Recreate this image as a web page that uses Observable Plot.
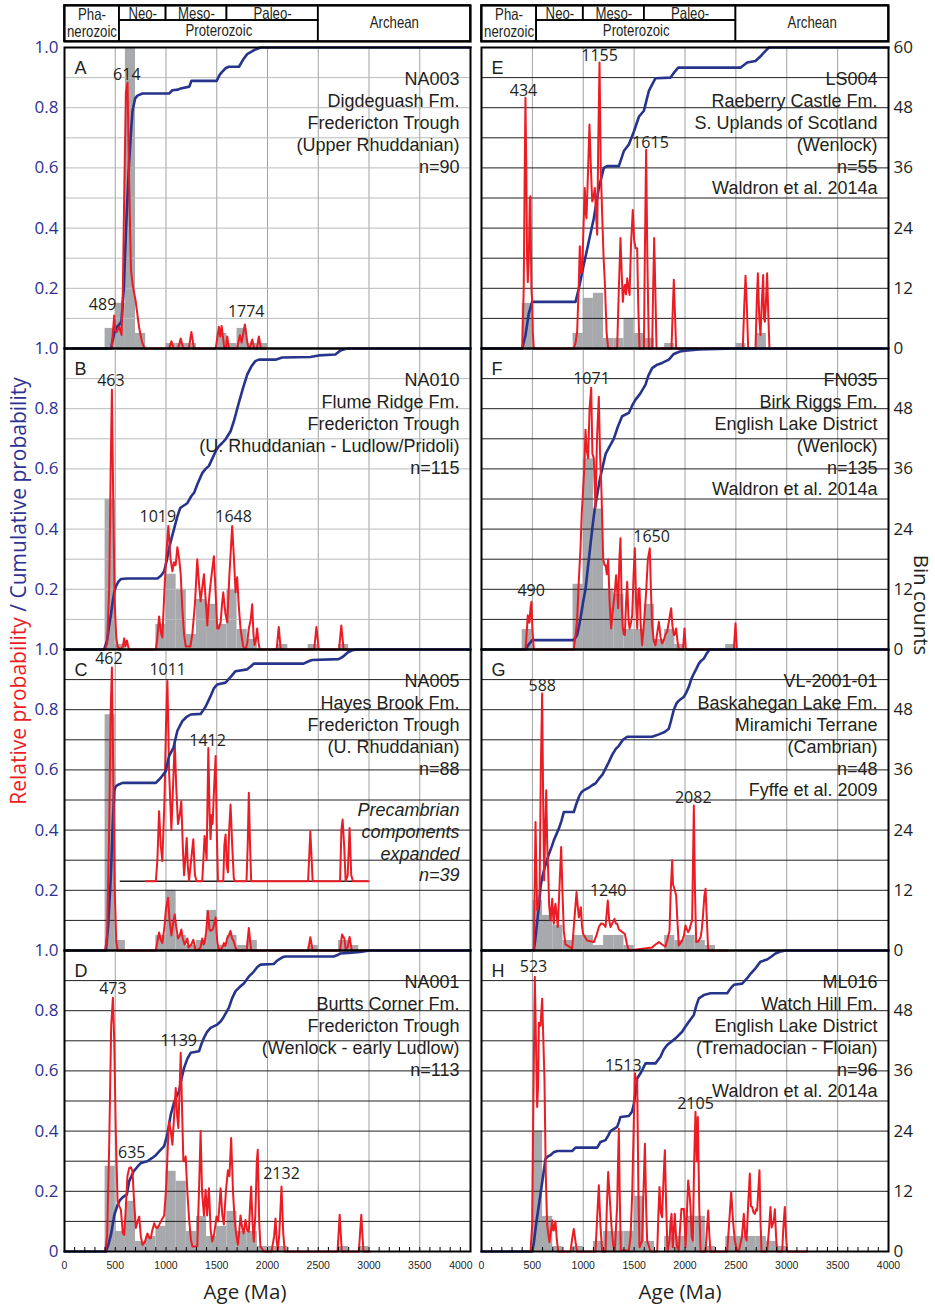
<!DOCTYPE html>
<html><head><meta charset="utf-8">
<script src="https://cdn.jsdelivr.net/npm/d3@7"></script>
<script src="https://cdn.jsdelivr.net/npm/@observablehq/plot@0.6"></script>
<style>
body{margin:0;background:#fff;}
#chart{position:relative;width:935px;height:1304px;overflow:hidden;background:#fff;}
#chart svg{position:absolute;}
.lab{position:absolute;white-space:nowrap;font-family:'Open Sans',sans-serif;line-height:1;}
</style></head><body><div id="chart"></div>
<script>
// ---------------- DATA ----------------
const binWidth = 100;
const countMax = 60;
const ageTicks = [0,500,1000,1500,2000,2500,3000,3500,4000];
const eraNames = ["Pha-\nnerozoic","Neo-","Meso-","Paleo-","Proterozoic","Archean"];
const eraStart = [0,541,1000,1600,541,2500];
const eraEnd   = [541,1000,1600,2500,2500,4000];
const eraRow   = ["full","upper","upper","upper","lower","full"];
const probTicks = [0.2,0.4,0.6,0.8,1.0];
const countTicks = [0,12,24,36,48,60];

// Panel A
const redA = [[457,0],[467,0.01],[478,0.06],[490,0.11],[500,0.06],[516,0.055],[539,0.072],[562,0.045],[575,0.2],[590,0.55],[605,0.85],[621,0.883],[637,0.55],[655,0.26],[672,0.21],[700,0.16],[735,0.07],[765,0.02],[790,0],[1030,0],[1053,0.024],[1075,0],[1120,0],[1145,0.033],[1170,0],[1225,0],[1250,0.055],[1275,0],[1490,0],[1521,0.072],[1535,0.04],[1548,0.075],[1575,0],[1590,0],[1603,0.04],[1620,0],[1700,0],[1728,0.044],[1745,0.02],[1777,0.08],[1805,0.01],[1825,0],[1849,0.03],[1870,0],[1895,0],[1915,0.04],[1935,0],[1997,0]];
const blueA = [[0,0],[457,0],[490,0.05],[506,0.067],[540,0.08],[561,0.09],[585,0.2],[604,0.38],[620,0.5],[637,0.62],[655,0.72],[670,0.79],[695,0.83],[719,0.84],[768,0.847],[1030,0.847],[1063,0.858],[1120,0.86],[1145,0.864],[1230,0.87],[1250,0.889],[1499,0.889],[1530,0.91],[1555,0.92],[1590,0.932],[1620,0.936],[1719,0.936],[1760,0.96],[1800,0.978],[1860,0.99],[1931,1],[4000,1]];
const binsA = [[400,4],[500,9],[600,60],[700,3],[1000,1],[1100,1],[1200,1],[1500,3],[1600,1],[1700,4],[1800,1],[1900,1]];
const peaksA = [["614",614,0.909],["489",375,0.145],["1774",1790,0.122]];
const textA = ["NA003","Digdeguash Fm.","Fredericton Trough","(Upper Rhuddanian)","n=90"];

// Panel B
const redB = [[400,0],[420,0.02],[440,0.2],[455,0.6],[467,0.863],[480,0.5],[495,0.15],[510,0.04],[523,0.01],[550,0],[575,0.01],[588,0.037],[600,0.01],[615,0.03],[630,0.005],[645,0],[900,0],[915,0.04],[932,0.11],[948,0.06],[964,0.04],[985,0.2],[1000,0.3],[1023,0.41],[1045,0.3],[1063,0.26],[1079,0.29],[1095,0.28],[1112,0.34],[1130,0.3],[1145,0.25],[1160,0.14],[1178,0.05],[1195,0.01],[1240,0.01],[1259,0.05],[1285,0.15],[1308,0.3],[1325,0.22],[1341,0.16],[1355,0.2],[1374,0.25],[1390,0.17],[1407,0.08],[1420,0.15],[1433,0.2],[1450,0.25],[1472,0.31],[1490,0.18],[1505,0.07],[1520,0.07],[1538,0.09],[1552,0.15],[1564,0.19],[1585,0.12],[1603,0.09],[1625,0.25],[1652,0.41],[1670,0.3],[1685,0.19],[1701,0.24],[1718,0.14],[1734,0.07],[1760,0.01],[1783,0],[1800,0.02],[1816,0.07],[1835,0.1],[1849,0.15],[1862,0.05],[1872,0.015],[1885,0.03],[1898,0.07],[1912,0.02],[1924,0],[2090,0],[2111,0.075],[2130,0],[2460,0],[2482,0.075],[2505,0],[2705,0],[2727,0.08],[2750,0],[2816,0]];
const blueB = [[0,0],[391,0],[420,0.03],[440,0.08],[457,0.115],[475,0.16],[490,0.19],[506,0.21],[530,0.225],[555,0.234],[620,0.236],[916,0.236],[950,0.245],[982,0.26],[1010,0.3],[1030,0.336],[1055,0.37],[1079,0.4],[1110,0.44],[1140,0.47],[1161,0.475],[1210,0.486],[1250,0.51],[1276,0.52],[1310,0.55],[1357,0.586],[1390,0.6],[1423,0.61],[1450,0.63],[1489,0.658],[1520,0.675],[1554,0.686],[1590,0.7],[1636,0.725],[1670,0.76],[1718,0.82],[1760,0.87],[1800,0.913],[1840,0.94],[1880,0.958],[1915,0.963],[2079,0.963],[2145,0.97],[2422,0.972],[2504,0.977],[2668,0.98],[2717,0.993],[2783,1],[4000,1]];
const binsB = [[400,30],[500,1],[900,5],[1000,15],[1100,12],[1200,3],[1300,10],[1400,9],[1500,5],[1600,12],[1700,4],[1800,2],[2100,1],[2400,1],[2700,1]];
const peaksB = [["463",457,0.892],["1019",919,0.441],["1648",1666,0.441]];
const textB = ["NA010","Flume Ridge Fm.","Fredericton Trough","(U. Rhuddanian - Ludlow/Pridoli)","n=115"];

// Panel C
const redC = [[400,0],[420,0.05],[440,0.4],[455,0.8],[467,0.94],[480,0.6],[495,0.2],[510,0.03],[523,0],[900,0],[915,0.03],[932,0.06],[948,0.035],[964,0.025],[985,0.08],[1000,0.14],[1020,0.175],[1035,0.1],[1053,0.05],[1070,0.09],[1086,0.12],[1100,0.08],[1118,0.04],[1135,0.05],[1151,0.07],[1165,0.04],[1184,0.02],[1198,0.03],[1210,0.04],[1222,0.01],[1236,0.015],[1250,0.02],[1269,0.036],[1288,0.005],[1308,0],[1340,0.01],[1357,0.04],[1370,0.02],[1380,0.025],[1395,0.06],[1413,0.13],[1428,0.07],[1439,0.065],[1460,0.07],[1489,0.11],[1505,0.03],[1521,0],[1555,0.01],[1570,0.025],[1585,0.015],[1603,0.04],[1620,0.05],[1636,0.065],[1652,0.04],[1668,0.03],[1685,0.01],[1701,0],[1795,0],[1816,0.075],[1839,0],[2400,0],[2422,0.044],[2445,0],[2715,0],[2734,0.053],[2757,0.04],[2770,0.005],[2790,0.01],[2809,0.045],[2830,0],[2996,0]];
const redExpC = [[800,0.23],[900,0.23],[915,0.3],[932,0.463],[948,0.35],[964,0.297],[985,0.5],[1000,0.75],[1014,0.895],[1030,0.6],[1053,0.40],[1070,0.55],[1086,0.695],[1100,0.55],[1118,0.42],[1135,0.45],[1151,0.496],[1165,0.35],[1178,0.25],[1190,0.3],[1204,0.374],[1215,0.28],[1227,0.232],[1248,0.3],[1269,0.37],[1285,0.25],[1302,0.23],[1357,0.23],[1368,0.3],[1380,0.38],[1390,0.35],[1400,0.30],[1417,0.673],[1430,0.45],[1439,0.37],[1450,0.45],[1459,0.42],[1475,0.55],[1489,0.646],[1500,0.4],[1512,0.23],[1564,0.23],[1575,0.35],[1587,0.385],[1600,0.28],[1610,0.26],[1622,0.4],[1636,0.485],[1652,0.35],[1668,0.24],[1680,0.23],[1793,0.23],[1805,0.35],[1816,0.524],[1828,0.35],[1839,0.23],[2400,0.23],[2422,0.396],[2445,0.23],[2715,0.23],[2728,0.4],[2740,0.435],[2755,0.35],[2770,0.23],[2790,0.25],[2809,0.407],[2825,0.25],[2842,0.23],[2996,0.23]];
const expBaseC = [549,2996,0.23];
const blueC = [[0,0],[408,0],[430,0.08],[457,0.25],[475,0.42],[490,0.53],[505,0.545],[523,0.55],[572,0.557],[900,0.557],[949,0.574],[998,0.596],[1030,0.646],[1073,0.673],[1112,0.73],[1161,0.762],[1200,0.775],[1243,0.784],[1341,0.786],[1390,0.81],[1439,0.845],[1470,0.87],[1505,0.884],[1587,0.89],[1640,0.91],[1685,0.928],[1800,0.934],[1840,0.945],[1865,0.953],[2356,0.953],[2400,0.96],[2438,0.965],[2700,0.968],[2740,0.975],[2790,0.99],[2840,0.998],[2880,1],[4000,1]];
const binsC = [[400,47],[500,2],[900,3],[1000,12],[1100,3],[1200,1],[1300,2],[1400,8],[1500,1],[1600,3],[1700,1],[1800,2],[2400,1],[2700,2],[2800,1]];
const peaksC = [["462",437,0.968],["1011",1017,0.931],["1412",1410,0.696]];
const textC = ["NA005","Hayes Brook Fm.","Fredericton Trough","(U. Rhuddanian)","n=88"];
const noteC = ["Precambrian","components","expanded","n=39"];

// Panel D
const redD = [[400,0],[420,0.05],[440,0.35],[460,0.75],[477,0.843],[490,0.7],[505,0.4],[523,0.166],[540,0.15],[555,0.14],[575,0.06],[588,0.055],[605,0.15],[620,0.25],[637,0.277],[655,0.28],[670,0.266],[685,0.17],[703,0.078],[720,0.1],[736,0.116],[752,0.05],[768,0.022],[790,0.03],[817,0.06],[835,0.045],[850,0.044],[865,0.07],[884,0.094],[900,0.08],[916,0.078],[935,0.09],[949,0.1],[965,0.11],[982,0.12],[995,0.18],[1004,0.23],[1018,0.35],[1030,0.43],[1047,0.4],[1063,0.355],[1080,0.45],[1096,0.543],[1110,0.45],[1122,0.41],[1135,0.55],[1145,0.66],[1160,0.45],[1171,0.3],[1185,0.3],[1194,0.316],[1210,0.2],[1227,0.11],[1245,0.04],[1259,0.017],[1308,0.017],[1325,0.2],[1341,0.40],[1355,0.2],[1374,0.12],[1390,0.205],[1405,0.12],[1423,0.21],[1440,0.07],[1456,0.033],[1475,0.06],[1498,0.116],[1515,0.1],[1538,0.21],[1555,0.12],[1570,0.09],[1590,0.2],[1610,0.27],[1625,0.25],[1642,0.377],[1660,0.2],[1675,0.11],[1690,0.06],[1708,0.022],[1720,0.06],[1734,0.12],[1750,0.08],[1765,0.06],[1783,0.105],[1800,0.07],[1816,0.066],[1828,0.15],[1839,0.216],[1852,0.1],[1865,0.033],[1880,0.12],[1895,0.3],[1904,0.338],[1918,0.1],[1930,0.017],[1963,0],[2040,0],[2065,0.05],[2079,0.11],[2092,0.03],[2102,0.005],[2115,0.05],[2138,0.216],[2155,0.06],[2170,0],[2690,0],[2711,0.122],[2732,0],[2900,0],[2924,0.122],[2945,0],[3006,0]];
const blueD = [[0,0],[408,0],[430,0.02],[457,0.055],[475,0.09],[490,0.12],[523,0.155],[545,0.17],[572,0.18],[615,0.19],[637,0.233],[680,0.266],[715,0.28],[752,0.294],[817,0.3],[860,0.31],[900,0.32],[940,0.335],[982,0.35],[1014,0.39],[1047,0.455],[1075,0.49],[1096,0.51],[1128,0.532],[1150,0.57],[1178,0.61],[1210,0.64],[1243,0.66],[1325,0.665],[1350,0.69],[1374,0.71],[1405,0.73],[1439,0.743],[1505,0.754],[1540,0.765],[1570,0.78],[1620,0.81],[1650,0.84],[1685,0.865],[1730,0.88],[1767,0.89],[1820,0.915],[1865,0.93],[1900,0.945],[1930,0.953],[2061,0.955],[2090,0.965],[2111,0.97],[2150,0.978],[2177,0.98],[2652,0.98],[2690,0.985],[2717,0.99],[2800,0.992],[2914,0.995],[3006,1],[4000,1]];
const binsD = [[400,17],[500,4],[600,10],[700,2],[800,3],[900,5],[1000,16],[1100,14],[1200,4],[1300,7],[1400,3],[1500,5],[1600,8],[1700,4],[1800,4],[1900,1],[2000,1],[2100,1],[2700,1],[2900,1]];
const peaksD = [["473",477,0.872],["1139",1125,0.699],["635",663,0.327],["2132",2138,0.258]];
const textD = ["NA001","Burtts Corner Fm.","Fredericton Trough","(Wenlock - early Ludlow)","n=113"];

// Panel E
const redE = [[400,0],[415,0.2],[425,0.6],[432,0.833],[440,0.6],[448,0.3],[455,0.22],[465,0.3],[475,0.5],[481,0.506],[490,0.2],[498,0.155],[505,0.05],[514,0],[907,0],[925,0.02],[940,0.055],[955,0.2],[966,0.34],[978,0.25],[989,0.255],[1002,0.4],[1015,0.533],[1024,0.45],[1032,0.433],[1048,0.6],[1061,0.744],[1075,0.6],[1088,0.489],[1100,0.5],[1114,0.533],[1125,0.45],[1137,0.378],[1148,0.7],[1160,0.95],[1172,0.6],[1186,0.444],[1200,0.3],[1212,0.222],[1230,0.05],[1245,0],[1333,0],[1350,0.2],[1366,0.367],[1378,0.25],[1389,0.155],[1400,0.2],[1409,0.211],[1420,0.18],[1432,0.233],[1445,0.2],[1455,0.178],[1470,0.35],[1487,0.46],[1500,0.36],[1514,0.333],[1530,0.333],[1540,0.15],[1553,0],[1596,0],[1605,0.3],[1618,0.66],[1630,0.3],[1645,0],[1677,0],[1687,0.2],[1697,0.367],[1708,0.2],[1720,0],[1867,0],[1880,0.13],[1890,0.228],[1900,0.13],[1913,0],[2568,0],[2582,0.14],[2595,0.242],[2608,0.14],[2621,0],[2693,0],[2705,0.15],[2716,0.25],[2730,0.1],[2742,0.044],[2755,0.15],[2768,0.244],[2777,0.1],[2785,0.089],[2795,0.15],[2807,0.25],[2818,0.12],[2830,0],[3004,0]];
const blueE = [[0,0],[400,0],[432,0.044],[465,0.117],[498,0.155],[531,0.155],[924,0.155],[957,0.2],[1005,0.278],[1055,0.356],[1104,0.433],[1153,0.533],[1202,0.6],[1235,0.606],[1350,0.606],[1399,0.656],[1448,0.678],[1497,0.72],[1547,0.77],[1596,0.79],[1645,0.856],[1710,0.898],[1858,0.9],[1900,0.92],[1933,0.933],[2005,0.933],[2545,0.933],[2611,0.95],[2693,0.955],[2740,0.97],[2775,0.983],[2824,1],[4000,1]];
const binsE = [[400,9],[900,3],[1000,10],[1100,11],[1200,2],[1300,2],[1400,6],[1500,3],[1600,2],[1800,1],[2500,1],[2700,3]];
const peaksE = [["434",413,0.855],["1155",1160,0.972],["1615",1661,0.684]];
const textE = ["LS004","Raeberry Castle Fm.","S. Uplands of Scotland","(Wenlock)","n=55","Waldron et al. 2014a"];

// Panel F
const redF = [[432,0],[445,0.06],[455,0.114],[465,0.09],[472,0.09],[482,0.14],[491,0.159],[500,0.07],[514,0],[907,0],[925,0.05],[940,0.1],[955,0.22],[973,0.336],[985,0.45],[996,0.514],[1010,0.6],[1022,0.73],[1035,0.66],[1048,0.635],[1062,0.8],[1078,0.87],[1090,0.65],[1104,0.635],[1112,0.55],[1120,0.47],[1135,0.7],[1153,0.84],[1165,0.65],[1179,0.525],[1196,0.3],[1210,0.28],[1219,0.28],[1232,0.25],[1245,0.3],[1260,0.15],[1274,0.07],[1288,0.12],[1300,0.158],[1312,0.2],[1323,0.247],[1333,0.2],[1343,0.137],[1355,0.3],[1366,0.37],[1378,0.15],[1389,0.07],[1400,0.05],[1409,0.048],[1420,0.15],[1432,0.225],[1445,0.1],[1455,0.07],[1470,0.09],[1481,0.114],[1495,0.25],[1507,0.336],[1520,0.15],[1530,0.07],[1542,0.2],[1553,0.203],[1565,0.08],[1579,0.014],[1600,0.1],[1618,0.192],[1635,0.3],[1654,0.336],[1665,0.2],[1677,0.081],[1692,0.03],[1710,0.014],[1725,0.05],[1743,0.092],[1760,0.04],[1775,0.02],[1790,0.03],[1808,0.05],[1825,0.059],[1845,0.1],[1864,0.137],[1876,0.08],[1890,0.048],[1900,0.05],[1913,0.07],[1925,0.03],[1939,0],[1980,0],[1995,0.07],[2008,0],[2480,0],[2496,0.087],[2510,0],[2611,0]];
const blueF = [[0,0],[432,0],[460,0.015],[498,0.031],[531,0.031],[907,0.031],[940,0.048],[973,0.103],[1000,0.16],[1022,0.2],[1055,0.30],[1088,0.4],[1110,0.46],[1137,0.514],[1160,0.56],[1186,0.6],[1220,0.65],[1251,0.67],[1300,0.7],[1340,0.74],[1382,0.775],[1448,0.786],[1480,0.81],[1514,0.83],[1560,0.85],[1612,0.88],[1640,0.91],[1677,0.935],[1720,0.945],[1775,0.952],[1841,0.963],[1890,0.982],[1950,0.99],[2005,0.993],[2136,0.997],[2496,1],[4000,1]];
const binsF = [[400,4],[900,13],[1000,38],[1100,28],[1200,12],[1300,11],[1400,4],[1500,4],[1600,9],[1700,2],[1800,4],[1900,1],[2400,1]];
const peaksF = [["1071",1081,0.898],["490",488,0.194],["1650",1671,0.374]];
const textF = ["FN035","Birk Riggs Fm.","English Lake District","(Wenlock)","n=135","Waldron et al. 2014a"];

// Panel G
const redG = [[514,0],[522,0.2],[531,0.427],[540,0.25],[547,0.133],[560,0.16],[570,0.166],[583,0.6],[596,0.854],[606,0.5],[616,0.233],[626,0.4],[636,0.532],[646,0.35],[655,0.266],[665,0.15],[678,0.1],[695,0.172],[703,0.12],[711,0.089],[720,0.14],[727,0.155],[738,0.12],[750,0.078],[765,0.2],[783,0.344],[795,0.2],[809,0.066],[825,0.02],[842,0.017],[891,0.006],[912,0.1],[934,0.194],[945,0.15],[957,0.11],[965,0.12],[976,0.144],[988,0.08],[999,0.055],[1038,0.033],[1104,0.028],[1130,0.05],[1153,0.078],[1175,0.09],[1192,0.089],[1205,0.085],[1219,0.078],[1241,0.166],[1255,0.1],[1268,0.078],[1285,0.09],[1307,0.105],[1320,0.09],[1333,0.089],[1350,0.07],[1366,0.066],[1390,0.06],[1409,0.055],[1430,0.02],[1448,0],[1677,0.01],[1710,0.02],[1743,0.028],[1775,0.02],[1808,0.013],[1830,0.04],[1848,0.066],[1860,0.2],[1874,0.3],[1882,0.22],[1890,0.211],[1900,0.2],[1913,0.183],[1925,0.1],[1939,0.017],[1972,0.033],[1990,0.05],[2005,0.083],[2018,0.07],[2031,0.061],[2045,0.07],[2054,0.083],[2070,0.1],[2087,0.482],[2098,0.2],[2110,0.028],[2130,0.03],[2153,0.044],[2165,0.07],[2176,0.111],[2190,0.18],[2202,0.205],[2215,0.1],[2228,0],[2415,0]];
const blueG = [[0,0],[514,0],[530,0.04],[547,0.094],[565,0.15],[580,0.21],[595,0.24],[613,0.266],[635,0.29],[662,0.32],[690,0.345],[711,0.366],[735,0.385],[760,0.405],[785,0.43],[809,0.46],[907,0.46],[930,0.485],[957,0.51],[980,0.525],[1005,0.532],[1050,0.54],[1088,0.549],[1120,0.555],[1153,0.57],[1190,0.585],[1219,0.604],[1250,0.625],[1284,0.65],[1320,0.67],[1350,0.68],[1390,0.7],[1432,0.71],[1677,0.71],[1743,0.718],[1800,0.726],[1841,0.737],[1860,0.76],[1890,0.8],[1915,0.82],[1939,0.83],[1989,0.843],[2010,0.855],[2038,0.876],[2060,0.9],[2087,0.92],[2110,0.935],[2136,0.953],[2160,0.963],[2185,0.97],[2210,0.985],[2241,1],[4000,1]];
const binsG = [[500,10],[600,7],[700,5],[800,2],[900,3],[1000,3],[1100,1],[1200,3],[1300,3],[1400,1],[1800,3],[1900,2],[2000,3],[2100,2],[2200,1]];
const peaksG = [["588",597,0.879],["1240",1245,0.198],["2082",2081,0.507]];
const textG = ["VL-2001-01","Baskahegan Lake Fm.","Miramichi Terrane","(Cambrian)","n=48","Fyffe et al. 2009"];

// Panel H
const redH = [[482,0],[498,0.09],[510,0.5],[524,0.913],[535,0.7],[547,0.48],[556,0.55],[564,0.76],[580,0.75],[596,0.84],[608,0.7],[619,0.57],[632,0.25],[645,0.09],[656,0.06],[668,0.031],[680,0.06],[695,0.103],[705,0.07],[711,0.07],[720,0.09],[727,0.1],[740,0.04],[754,0],[875,0],[890,0.04],[907,0.075],[925,0.03],[940,0],[1120,0],[1135,0.1],[1153,0.22],[1170,0.08],[1186,0],[1219,0],[1232,0.15],[1245,0.264],[1260,0.18],[1278,0.081],[1295,0.02],[1310,0],[1325,0.1],[1333,0.148],[1342,0.3],[1350,0.408],[1358,0.2],[1369,0.003],[1448,0.003],[1465,0.05],[1481,0.192],[1495,0.4],[1507,0.592],[1520,0.57],[1530,0.57],[1542,0.2],[1553,0.014],[1579,0.036],[1592,0.2],[1606,0.358],[1618,0.15],[1628,0.036],[1661,0],[1727,0],[1738,0.12],[1749,0.214],[1762,0.13],[1775,0.114],[1790,0.25],[1802,0.336],[1815,0.15],[1828,0],[1848,0.036],[1858,0.1],[1868,0.125],[1875,0.05],[1881,0.014],[1890,0.07],[1900,0.125],[1912,0.05],[1923,0.014],[1939,0],[1952,0.08],[1965,0.142],[1978,0.14],[1989,0.142],[1998,0.08],[2005,0.014],[2018,0.12],[2031,0.236],[2043,0.2],[2054,0.148],[2066,0.05],[2077,0.036],[2090,0.3],[2103,0.464],[2115,0.3],[2126,0.447],[2140,0.15],[2153,0],[2202,0],[2215,0.07],[2228,0.136],[2240,0.05],[2251,0],[2415,0],[2435,0.1],[2454,0.198],[2472,0.1],[2490,0.036],[2510,0.005],[2529,0],[2560,0.05],[2578,0.125],[2592,0.05],[2605,0.036],[2620,0.15],[2637,0.259],[2648,0.15],[2660,0.148],[2673,0.13],[2686,0.125],[2698,0.14],[2709,0.136],[2720,0.2],[2732,0.27],[2742,0.1],[2752,0],[2807,0],[2825,0.07],[2840,0.148],[2852,0.08],[2863,0.092],[2873,0.1],[2883,0.14],[2895,0.05],[2906,0],[2955,0],[2965,0.07],[2981,0.148],[2993,0.05],[3004,0],[3201,0]];
const blueH = [[0,0],[498,0],[515,0.03],[537,0.092],[560,0.145],[580,0.192],[605,0.25],[629,0.308],[650,0.315],[678,0.32],[710,0.33],[744,0.334],[891,0.334],[924,0.345],[1137,0.345],[1170,0.364],[1219,0.37],[1245,0.385],[1268,0.4],[1333,0.414],[1350,0.43],[1366,0.447],[1448,0.45],[1480,0.465],[1497,0.49],[1515,0.53],[1530,0.575],[1563,0.592],[1590,0.61],[1612,0.625],[1710,0.625],[1759,0.647],[1790,0.67],[1825,0.686],[1907,0.708],[1972,0.73],[2000,0.745],[2038,0.763],[2087,0.786],[2110,0.815],[2136,0.841],[2185,0.852],[2251,0.858],[2415,0.858],[2450,0.875],[2480,0.886],[2562,0.89],[2611,0.908],[2650,0.925],[2693,0.941],[2742,0.963],[2807,0.97],[2850,0.98],[2889,0.99],[2930,0.996],[2988,1],[4000,1]];
const binsH = [[500,24],[600,7],[700,1],[900,1],[1100,2],[1200,4],[1300,4],[1400,4],[1500,11],[1600,2],[1800,3],[1900,3],[2000,7],[2100,7],[2200,1],[2400,3],[2500,3],[2600,3],[2700,3],[2800,2],[2900,1]];
const peaksH = [["523",511,0.945],["1513",1393,0.616],["2105",2103,0.49]];
const textH = ["ML016","Watch Hill Fm.","English Lake District","(Tremadocian - Floian)","n=96","Waldron et al. 2014a"];

// ---------------- STYLE / LAYOUT ----------------
const RED = "#ec1c24", BLUE = "#27348b", GRAY = "#a7a9ac", NAVY = "#2e3192", INK = "#231f20";
const SANS = "'Liberation Sans', Arial, sans-serif";
const OPEN = "'Open Sans', sans-serif";
const cols = [{left: 0, width: 480, mL: 64, mR: 10}, {left: 470, width: 465, mL: 11, mR: 47}];
const PH = 301, TOP0 = 46.5;
const chart = document.getElementById("chart");

const panels = [
  {col:0,row:0,id:"A",red:redA,blue:blueA,bins:binsA,peaks:peaksA,text:textA,grid:"#b9bbbd"},
  {col:0,row:1,id:"B",red:redB,blue:blueB,bins:binsB,peaks:peaksB,text:textB,grid:"#b9bbbd"},
  {col:0,row:2,id:"C",red:redC,blue:blueC,bins:binsC,peaks:peaksC,text:textC,grid:INK,exp:redExpC,note:noteC},
  {col:0,row:3,id:"D",red:redD,blue:blueD,bins:binsD,peaks:peaksD,text:textD,grid:INK},
  {col:1,row:0,id:"E",red:redE,blue:blueE,bins:binsE,peaks:peaksE,text:textE,grid:INK},
  {col:1,row:1,id:"F",red:redF,blue:blueF,bins:binsF,peaks:peaksF,text:textF,grid:INK},
  {col:1,row:2,id:"G",red:redG,blue:blueG,bins:binsG,peaks:peaksG,text:textG,grid:INK},
  {col:1,row:3,id:"H",red:redH,blue:blueH,bins:binsH,peaks:peaksH,text:textH,grid:INK}
];

const hGrid = d3.range(1, 10).map(i => i / 10);
const vGrid = ageTicks.slice(1, -1);
const minorTicks = d3.range(100, 4000, 100);

function place(svg, left, top) {
  svg.style.left = left + "px";
  svg.style.top = top + "px";
  chart.appendChild(svg);
}

for (const p of panels) {
  const c = cols[p.col];
  const bottom = p.row === 3;
  const mT = 14, mB = bottom ? 34 : 14;
  const marks = [
    Plot.rect(p.bins, {x1: d => d[0], x2: d => d[0] + binWidth, y1: 0, y2: d => d[1] / countMax, fill: GRAY}),
    Plot.ruleX(vGrid, {stroke: "#a0a2a5", strokeWidth: 1}),
    Plot.ruleY(hGrid, {stroke: p.grid, strokeWidth: 1})
  ];
  if (p.exp) {
    marks.push(Plot.ruleY([expBaseC[2]], {x1: expBaseC[0], x2: expBaseC[1], stroke: INK, strokeWidth: 1.6}));
    marks.push(Plot.line(p.exp, {x: d => d[0], y: d => d[1], stroke: RED, strokeWidth: 2}));
  }
  marks.push(
    Plot.line(p.blue, {x: d => d[0], y: d => d[1], stroke: BLUE, strokeWidth: 2.6}),
    Plot.line(p.red, {x: d => d[0], y: d => d[1], stroke: RED, strokeWidth: 2}),
    Plot.frame({stroke: "#000", strokeWidth: 2}),
    Plot.text([p.id], {frameAnchor: "top-left", dx: 10, dy: 20.5, lineAnchor: "middle", textAnchor: "start", fontSize: 18, fontFamily: SANS, fill: INK}),
    Plot.text([p.text.join("\n")], {frameAnchor: "top-right", dx: -11, dy: 22.5, lineAnchor: "top", textAnchor: "end", lineHeight: 1.21, fontSize: 18, fontFamily: SANS, fill: INK}),
    Plot.text(p.peaks, {x: d => d[1], y: d => d[2], text: d => d[0], lineAnchor: "middle", fontSize: 16, fontFamily: OPEN, fill: INK})
  );
  if (p.note) {
    marks.push(Plot.text([p.note.join("\n")], {frameAnchor: "top-right", dx: -11, dy: 151, lineAnchor: "top", textAnchor: "end", lineHeight: 1.21, fontSize: 18, fontStyle: "italic", fontFamily: SANS, fill: INK}));
  }
  if (p.col === 0) {
    const t = bottom ? [0, ...probTicks] : probTicks;
    marks.push(Plot.text(t, {y: d => d, frameAnchor: "left", dx: -6, textAnchor: "end", lineAnchor: "middle", text: d => d === 0 ? "0" : d.toFixed(1), fontSize: 17, fontFamily: OPEN, fill: NAVY}));
  } else {
    const t = p.row === 0 ? countTicks : countTicks.slice(0, -1);
    marks.push(Plot.text(t, {y: d => d / countMax, frameAnchor: "right", dx: 5, textAnchor: "start", lineAnchor: "middle", text: d => String(d), fontSize: 17, fontFamily: OPEN, fill: INK}));
  }
  if (bottom) {
    // the left column's last label sits left of the column edge so it clears the right column's "0"
    const inner = p.col === 0 ? ageTicks.slice(0, -1) : ageTicks;
    const last = p.col === 0 ? ageTicks.slice(-1) : [];
    marks.push(
      Plot.ruleX(minorTicks, {insetTop: PH - 4, stroke: "#000", strokeWidth: 1}),
      Plot.text(inner, {x: d => d, frameAnchor: "bottom", dy: 14, lineAnchor: "middle", text: d => String(d), fontSize: 10.5, fontFamily: SANS, fill: INK}),
      Plot.text(last, {x: d => d, frameAnchor: "bottom", dy: 14, dx: 2, textAnchor: "end", lineAnchor: "middle", text: d => String(d), fontSize: 10.5, fontFamily: SANS, fill: INK})
    );
  }
  const svg = Plot.plot({
    width: c.width, height: PH + mT + mB,
    marginLeft: c.mL, marginRight: c.mR, marginTop: mT, marginBottom: mB,
    x: {domain: [0, 4000], axis: null},
    y: {domain: [0, 1], axis: null},
    style: {background: "transparent", overflow: "visible"},
    marks
  });
  place(svg, c.left, TOP0 + p.row * PH - mT);
}

// headers
const rowY = {full: [0, 36], upper: [21, 36], lower: [0, 21]};
const rowLabelY = {full: 18.5, upper: 27.5, lower: 10.5};
const eras = eraNames.map((name, i) => ({name, x1: eraStart[i], x2: eraEnd[i], row: eraRow[i]}));
for (const c of cols) {
  const svg = Plot.plot({
    width: c.width, height: 46,
    marginLeft: c.mL, marginRight: c.mR, marginTop: 5, marginBottom: 5,
    x: {domain: [0, 4000], axis: null},
    y: {domain: [0, 36], axis: null},
    style: {background: "transparent", overflow: "visible"},
    marks: [
      Plot.rect(eras, {x1: "x1", x2: "x2", y1: d => rowY[d.row][0], y2: d => rowY[d.row][1], stroke: "#000", strokeWidth: 1.6, fill: "none"}),
      Plot.frame({stroke: "#000", strokeWidth: 2.2}),
      Plot.text(eras, {x: d => (d.x1 + d.x2) / 2, y: d => rowLabelY[d.row], text: "name", lineAnchor: "middle", lineHeight: 1.0, fontSize: 16.5, fontFamily: SANS, fill: INK})
    ]
  });
  place(svg, c.left, 0);
  // condensed look of the era labels (narrow type face in the original)
  svg.querySelectorAll("text").forEach(t => {
    const parts = t.querySelectorAll("tspan");
    (parts.length ? Array.from(parts) : [t]).forEach(el => {
      const w = el.getComputedTextLength();
      if (w > 0) {
        el.setAttribute("textLength", (w * 0.8).toFixed(1));
        el.setAttribute("lengthAdjust", "spacingAndGlyphs");
      }
    });
  });
}

// axis titles (HTML text)
function label(html, x, y, size, rot, color) {
  const d = document.createElement("div");
  d.className = "lab";
  d.innerHTML = html;
  d.style.fontSize = size + "px";
  d.style.color = color || INK;
  d.style.left = x + "px";
  d.style.top = y + "px";
  d.style.transform = "translate(-50%,-50%)" + (rot ? ` rotate(${rot}deg)` : "");
  chart.appendChild(d);
}
label(`<span style="color:${RED}">Relative probability</span> / Cumulative probability`, 18, 591, 21, -90, NAVY);
label("Bin counts", 922, 605, 20.5, 90, INK);
label("Age (Ma)", 245, 1291, 20.5, 0, INK);
label("Age (Ma)", 680, 1291, 20.5, 0, INK);
</script></body></html>
